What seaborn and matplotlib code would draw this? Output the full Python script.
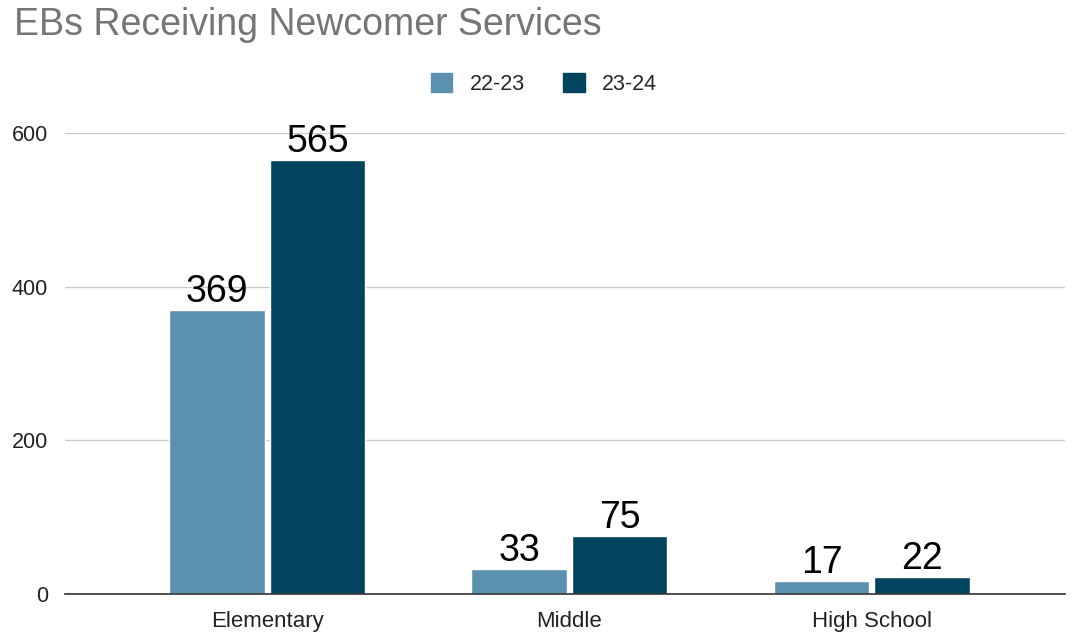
import matplotlib
matplotlib.use("Agg")
import matplotlib.pyplot as plt
import seaborn as sns
import pandas as pd
from matplotlib.patches import Patch

categories = ["Elementary", "Middle", "High School"]
series_names = ["22-23", "23-24"]
values_2223 = [369, 33, 17]
values_2324 = [565, 75, 22]
yticks = [0, 200, 400, 600]

df = pd.DataFrame({
    "category": categories * 2,
    "year": [series_names[0]] * 3 + [series_names[1]] * 3,
    "value": values_2223 + values_2324,
})

sns.set_theme(style="white")
plt.rcParams["font.family"] = ["Liberation Sans", "DejaVu Sans"]

fig = plt.figure(figsize=(10.77, 6.33), dpi=100)
ax = fig.add_axes([0.060, 0.0616, 0.929, 0.7284])

palette = {"22-23": "#5B91AF", "23-24": "#024460"}
sns.barplot(data=df, x="category", y="value", hue="year", order=categories,
            hue_order=series_names, palette=palette, width=0.665, gap=0.05,
            saturation=1, ax=ax, legend=False, zorder=3)

for cont in ax.containers:
    ax.bar_label(cont, fontsize=27, color="black", padding=0)

ax.set_ylim(0, 600)
ax.set_xlim(-0.67, 2.64)
ax.set_yticks(yticks)
ax.yaxis.grid(True, color="#cccccc", linewidth=1, zorder=0)
ax.set_axisbelow(True)
for s in ["top", "right", "left"]:
    ax.spines[s].set_visible(False)
ax.spines["bottom"].set_color("#333333")
ax.spines["bottom"].set_linewidth(1.2)
ax.spines["bottom"].set_zorder(4)
ax.tick_params(axis="x", length=0, labelsize=16, colors="#222222", pad=12)
ax.tick_params(axis="y", length=0, labelsize=15.5, colors="#222222", pad=12)
ax.set_xlabel("")
ax.set_ylabel("")

handles = [Patch(color=palette[n]) for n in series_names]
fig.legend(handles, series_names, loc="center", bbox_to_anchor=(0.505, 0.868),
           ncol=2, frameon=False, fontsize=15.5, handlelength=1.0, handleheight=1.0,
           columnspacing=1.8, handletextpad=0.8)

fig.text(0.013, 1 - 7 / 633, "EBs Receiving Newcomer Services", fontsize=27,
         color="#757575", ha="left", va="top")

fig.savefig("out.png", dpi=100)
